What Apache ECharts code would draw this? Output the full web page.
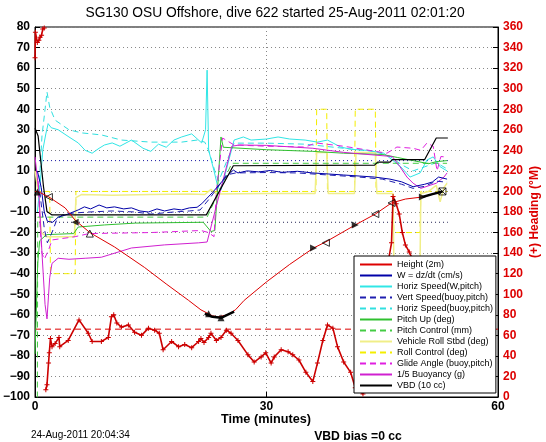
<!DOCTYPE html>
<html><head><meta charset="utf-8">
<script src="https://cdn.jsdelivr.net/npm/echarts@6/dist/echarts.min.js"></script>
<style>html,body{margin:0;padding:0;background:#fff}#c{width:546px;height:442px}</style>
</head><body><div id="c"></div>
<script>
// ---------- texts ----------
const titleText = 'SG130 OSU Offshore, dive 622 started 25-Aug-2011 02:01:20';
const xName = 'Time (minutes)';
const rightName = '(+) Heading (\u00b0M)';
const dateText = '24-Aug-2011 20:04:34';
const vbdText = 'VBD bias =0 cc';
const xTicks = [0, 30, 60];
const leftTicks = [-100, 80, 10];
const rightTicks = [0, 360, 20];

// ---------- series values [time (min), value] ----------
const height = [[0,0],[0.5,-0.3],[1.8,-2.7],[3.9,-8],[5.2,-14],[7.1,-20],[10.3,-27],[14.2,-37],[17,-45],[19.9,-53],[21.5,-57.6],[23,-60.5],[23.7,-61],[25,-60],[26,-57.5],[27.1,-53],[30,-44],[33,-35.5],[36.1,-27.5],[37.7,-24.5],[41.5,-16.3],[44.1,-11],[46.2,-5.6],[48,-3.7],[50.2,-2.7],[52.8,0]];
const wSpeed = [[0.3,10],[0.8,2],[1.2,-10],[1.6,-14.5],[2.3,-15],[3,-12.5],[3.9,-11.5],[4.6,-10.5],[5.6,-9],[6.4,-7.5],[7.2,-8.5],[8.3,-6.6],[9.3,-8],[10.3,-7.5],[11.5,-8.5],[12.5,-8],[13.6,-9.5],[14.7,-10],[15.8,-8.5],[16.8,-9.5],[18,-8.5],[19,-9],[20,-8],[21,-7.7],[21.6,-6],[23,-0.5],[24.5,6],[25.7,10.4],[26.3,9],[27.5,10],[29,9.5],[30.5,10.2],[32,9.3],[34,9.8],[36,9],[38,8.5],[40,8],[42,7.5],[44,7],[46,6],[47.5,4.7],[49,2.3],[50.5,3.5],[51.5,4.6],[52.3,7],[53.4,6]];
const horizW = [[0.3,-10],[0.7,5],[1,20],[1.4,28],[1.7,33],[2.1,31],[3,30],[4.4,26.5],[5.6,23.6],[6.5,20],[7.4,18.6],[8.3,21],[9,22.6],[10,23.6],[11,22],[12.5,25],[14,21],[15,19.5],[16,23],[17,21.5],[18,25],[19,26.5],[20.3,28],[21.6,23.6],[22.1,30],[22.3,59],[22.5,20],[23.2,10],[23.7,2],[24.1,0.6],[25.8,25],[27,26.5],[28,25],[30,25.5],[31.5,26.5],[33,25.5],[35,25],[36.6,24],[37.9,25],[39.6,21.6],[41,20.5],[43,20],[45.2,18.6],[47.4,12],[48.6,7],[49.9,9],[50.8,15.3],[51.6,16.8],[52.5,12],[53.4,10]];
const vertSpeed = [[0.6,0],[1.2,-18],[1.6,-25],[2.2,-20],[2.8,-14],[3.5,-11.5],[5,-10.5],[7,-10],[10,-9.5],[13,-10],[15,-11],[18,-10],[20,-9.5],[21.4,-9],[22.5,-4],[23.5,1],[24.8,8],[26,9],[30,9.2],[34,9],[38,8],[42,7],[45,6],[47.5,3.5],[49,1.5],[50.5,2.5],[52,5],[53.4,4.5]];
const horizBuoy = [[0.5,0],[0.9,27],[1.3,40],[1.55,48.4],[1.9,41],[2.6,34.7],[4.4,30],[6,28.5],[8.6,27.5],[11.2,25],[15,24],[19,24],[21,25],[22,24],[22.5,20],[23.3,10],[23.8,5],[25.8,23.5],[30,23.5],[35,23],[40,21],[44,19.5],[46,17],[47.5,13],[49,10],[50.5,12],[52,14],[53.4,11]];
const pitchUp = [[0,-79],[0.35,-35],[0.6,-24],[1.5,-21],[5,-20.5],[5.6,-17.3],[9,-16.3],[13,-15.4],[21.8,-15],[22.8,-19.5],[23.3,-19],[24.1,26.5],[24.4,21.5],[30,20.3],[36,19.5],[40,18.6],[45,18],[47,16.5],[49,15],[51,13.5],[52,14.5],[53.4,15]];
const pitchCtl = [[0,-104],[0.3,-104],[0.35,-12.5],[22.3,-12.5],[25.5,13.7],[53.4,13.7]];
const rollVeh = [[0,10],[0.4,0],[0.8,-20],[1.5,-22],[5.1,-22],[5.3,-3],[6,-1.5],[10,-1.8],[15,-1.5],[20,-1.2],[22,-1.5],[22.8,1],[23.5,-1.2],[30,-1],[36.3,-1],[36.5,19],[37.8,19],[38,-1],[41.4,-1],[41.6,19],[44.1,19],[44.3,-1],[46.4,-1],[46.5,-35],[49.9,-35],[50,-1],[51,0],[52,3],[52.5,-5],[53,2],[53.4,4]];
const rollCtl = [[0,0],[1.9,0],[2,-40],[5.2,-40],[5.3,0],[36.4,0],[36.5,40],[37.8,40],[37.9,0],[41.4,0],[41.5,40],[44.1,40],[44.2,0],[46.4,0],[46.5,-20],[49.9,-20],[50,0],[53.4,0]];
const glide = [[0.4,5],[0.7,-20],[0.9,-30],[1.2,-33],[1.8,-28],[2.2,-23.6],[5.2,-22],[7,-20.5],[15,-20],[21.5,-19],[22.5,-20],[23.2,-22],[23.5,0],[24.3,26],[25.8,22.6],[30,22],[33,21.8],[35,21.6],[36.4,23.6],[40,22],[45.6,18.6],[46.9,21.6],[49,21],[50,20],[50.8,23.6],[51.6,22],[52.1,10],[52.6,17],[53.4,16.7]];
const buoyancy = [[0,16.8],[0.5,0],[0.9,-30],[1.3,-55],[1.55,-62],[1.9,-42],[2.2,-35],[3,-32.5],[4.4,-33],[6.5,-32.5],[8.6,-32],[12.5,-27.5],[16.8,-26],[21.2,-25],[22.3,-24.6],[25.5,22],[26.5,22.6],[30,22.4],[36,21],[40,19],[44,17.7],[46.3,17],[47.3,12],[48.2,7],[49,4],[50,1.5],[51.2,3],[52,4],[53,7],[53.4,9]];
const vbd = [[0,30.7],[0.4,27],[1.1,2.3],[1.55,-9.8],[2.2,-11.4],[22.2,-11.4],[25.7,12.5],[44,12.8],[44.4,14.3],[46,14.3],[46.3,15.5],[50.5,15.5],[52,26],[53.5,26]];
const refUpper = [[0,15],[53.5,15]];
const refLower = [[0,-15],[53.5,-15]];
const heading = [[0,330],[0.05,355],[0.3,345],[0.5,347],[0.65,350],[0.85,352],[1.0,358],[1.2,359],[1.3,null],[1.4,7],[1.55,12],[1.75,33],[1.85,43],[2.0,57],[2.2,49],[2.6,52],[3.1,58],[3.2,49],[4.3,55],[5.7,75],[6.9,62],[7.4,54],[8.6,54],[9.5,58],[9.9,78],[10.2,80],[10.6,72],[11.2,68],[12.1,70],[12.9,63],[13.8,60],[14.7,67],[15.5,65],[16.1,62],[16.6,46],[17.7,54],[18.6,49],[19.4,51],[20.3,48],[21.2,54],[21.5,57],[21.9,53],[22.5,58],[22.8,62],[23.5,55],[24.1,58],[24.8,65],[25.4,62],[26.3,55],[27.6,41],[28.4,34],[29.3,39],[29.9,43],[30.6,33],[31,39],[31.9,46],[32.8,44],[33.4,41],[34.2,36],[35.1,24],[36,15],[36.6,33],[37.3,55],[37.9,70],[38.6,67],[39.2,49],[40,34],[40.9,24],[41.5,9],[42.5,3],[44,60],[45.5,120],[46.2,150],[46.4,195],[46.8,188],[47.2,178],[47.6,160],[48,148],[48.5,141],[49.5,125],[51,110],[53,100]];
const headingTarget = [[0,66],[60,66]];
const markFilled = [[0.3,-0.3],[5.2,-15],[22.5,-59.5],[24.1,-61.5],[36.1,-27.5],[41.5,-16.3],[50.2,-2.7]];
const markHollow = [[1.8,-2.7],[7.1,-20.5],[37.7,-25],[44.1,-11],[46.2,-5.6]];
const markEnd = [[52.8,0]];
const surfSegs = [[22,-59.5],[23,-61],[24.1,-61.5],[25.8,-58.5],[26,null],[50.2,-2.7],[51.5,-1.3],[52.8,0]];

// ---------- styles ----------
const rotFilled = [0, 90, 0, 0, -90, -90, -90];
const rotHollow = [90, 0, 90, 90, 90];
const FONT = '"Liberation Sans", Arial, Helvetica, sans-serif';
const DASH = [6, 4];

function ln(name, data, color, type, width, yi) {
  return { name, type: 'line', data, yAxisIndex: yi || 0, symbol: 'none', showSymbol: false,
    animation: false, silent: true, connectNulls: false,
    lineStyle: { color, width: width || 1, type: type || 'solid' }, itemStyle: { color } };
}

const series = [
  ln('', refUpper, '#1010a0', [1, 3], 1),
  ln('', refLower, '#202050', [1, 3], 1),
  ln('', headingTarget, '#dd0000', DASH, 1, 1),
  ln('Roll Control (deg)', rollCtl, '#f4ee00', DASH, 1),
  ln('Vehicle Roll Stbd (deg)', rollVeh, '#f0ee88', 'solid', 1.5),
  ln('Horiz Speed(buoy,pitch)', horizBuoy, '#30e0e0', DASH, 1),
  ln('Horiz Speed(W,pitch)', horizW, '#30e6e6', 'solid', 1),
  ln('Pitch Control (mm)', pitchCtl, '#44cc44', DASH, 1),
  ln('Pitch Up (deg)', pitchUp, '#30c030', 'solid', 1),
  ln('Glide Angle (buoy,pitch)', glide, '#e020e0', DASH, 1),
  ln('1/5 Buoyancy (g)', buoyancy, '#d020d0', 'solid', 1),
  ln('Vert Speed(buoy,pitch)', vertSpeed, '#2020b0', DASH, 1),
  ln('W = dz/dt (cm/s)', wSpeed, '#0000a8', 'solid', 1),
  ln('VBD (10 cc)', vbd, '#000000', 'solid', 1.2),
  ln('Height (2m)', height, '#dd0000', 'solid', 1),
  ln('', surfSegs, '#000000', 'solid', 2.5),
  {
    name: '', type: 'line', yAxisIndex: 1, data: heading, animation: false, silent: true,
    connectNulls: false, showSymbol: true, showAllSymbol: true,
    symbol: 'path://M4,0H6V4H10V6H6V10H4V6H0V4H4Z', symbolSize: 5,
    lineStyle: { color: '#cc0000', width: 1.6 }, itemStyle: { color: '#cc0000' }
  },
  {
    name: '', type: 'scatter', data: markFilled.map((p, i) => ({ value: p, symbolRotate: rotFilled[i] })),
    symbol: 'triangle', symbolSize: 7, animation: false, silent: true,
    itemStyle: { color: '#000' }, z: 5
  },
  {
    name: '', type: 'scatter', data: markHollow.map((p, i) => ({ value: p, symbolRotate: rotHollow[i] })),
    symbol: 'triangle', symbolSize: 7, animation: false, silent: true,
    itemStyle: { color: 'rgba(0,0,0,0)', borderColor: '#000', borderWidth: 1 }, z: 5
  },
  {
    name: '', type: 'scatter', data: markEnd,
    symbol: 'path://M0,0H10V10H0ZM0,0L10,10M10,0L0,10', symbolSize: 7, animation: false, silent: true,
    itemStyle: { color: 'rgba(0,0,0,0)', borderColor: '#000', borderWidth: 1 }, z: 5
  }
];

const legendNames = ['Height (2m)', 'W = dz/dt (cm/s)', 'Horiz Speed(W,pitch)', 'Vert Speed(buoy,pitch)',
  'Horiz Speed(buoy,pitch)', 'Pitch Up (deg)', 'Pitch Control (mm)', 'Vehicle Roll Stbd (deg)',
  'Roll Control (deg)', 'Glide Angle (buoy,pitch)', '1/5 Buoyancy (g)', 'VBD (10 cc)'];

const gridLine = { show: true, lineStyle: { color: '#888', type: [1, 3], width: 1 } };
const tickStyle = { show: true, inside: true, length: 5, lineStyle: { color: '#000' } };
const axLine = { show: true, onZero: false, lineStyle: { color: '#000' } };

const chart = echarts.init(document.getElementById('c'), null, { renderer: 'canvas' });
chart.setOption({
  animation: false,
  backgroundColor: '#fff',
  textStyle: { fontFamily: FONT },
  grid: { left: 33, right: 48, top: 27, bottom: 45, show: true, borderColor: '#000', borderWidth: 1, containLabel: false },
  xAxis: {
    type: 'value', min: xTicks[0], max: xTicks[2], interval: xTicks[1] - xTicks[0],
    axisLine: axLine, axisTick: tickStyle,
    axisLabel: { color: '#000', fontWeight: 'bold', fontSize: 12, margin: 4, fontFamily: FONT },
    splitLine: gridLine
  },
  yAxis: [
    {
      type: 'value', min: leftTicks[0], max: leftTicks[1], interval: leftTicks[2], position: 'left',
      axisLine: axLine, axisTick: tickStyle,
      axisLabel: { color: '#000', fontWeight: 'bold', fontSize: 12, margin: 5, fontFamily: FONT,
        formatter: v => (v < 0 ? '\u2212' + Math.abs(v) : String(v)) },
      splitLine: gridLine
    },
    {
      type: 'value', min: rightTicks[0], max: rightTicks[1], interval: rightTicks[2], position: 'right',
      axisLine: axLine, axisTick: tickStyle,
      axisLabel: { color: '#dd0000', fontWeight: 'bold', fontSize: 12, margin: 5, fontFamily: FONT },
      splitLine: { show: false }
    }
  ],
  legend: {
    data: legendNames, orient: 'vertical', left: 354, top: 256,
    itemWidth: 32, itemHeight: 9, itemGap: 2, padding: [4, 3, 3, 5],
    backgroundColor: '#fff', borderColor: '#000', borderWidth: 1, selectedMode: false,
    itemStyle: { opacity: 0, borderWidth: 0 },
    textStyle: { fontSize: 9, color: '#000', fontFamily: FONT }, z: 10
  },
  graphic: [
    { type: 'text', x: 275, y: 13, z: 10, style: { text: titleText, font: '13.8px ' + FONT, fill: '#000', textAlign: 'center', textVerticalAlign: 'middle', align: 'center', verticalAlign: 'middle' } },
    { type: 'text', x: 266, y: 419, z: 10, style: { text: xName, font: 'bold 12.7px ' + FONT, fill: '#000', textAlign: 'center', textVerticalAlign: 'middle', align: 'center', verticalAlign: 'middle' } },
    { type: 'text', x: 31, y: 435, z: 10, style: { text: dateText, font: '10px ' + FONT, fill: '#000', textAlign: 'left', textVerticalAlign: 'middle', align: 'left', verticalAlign: 'middle' } },
    { type: 'text', x: 358, y: 437, z: 10, style: { text: vbdText, font: 'bold 12.2px ' + FONT, fill: '#000', textAlign: 'center', textVerticalAlign: 'middle', align: 'center', verticalAlign: 'middle' } },
    { type: 'text', x: 535, y: 212, rotation: Math.PI / 2, z: 10, style: { text: rightName, font: 'bold 12px ' + FONT, fill: '#dd0000', textAlign: 'center', textVerticalAlign: 'middle', align: 'center', verticalAlign: 'middle' } }
  ],
  series
});
</script></body></html>
